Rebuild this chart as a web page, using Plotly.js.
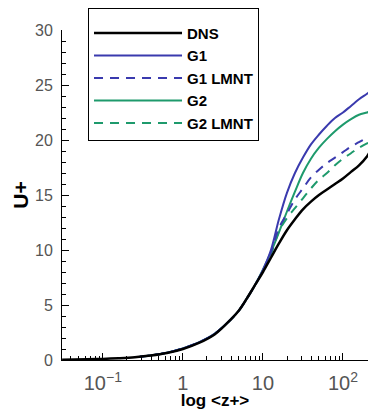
<!DOCTYPE html>
<html>
<head>
<meta charset="utf-8">
<script src="https://cdn.plot.ly/plotly-3.0.1.min.js"></script>
<style>html,body{margin:0;padding:0;background:#fff;}#chart{width:368px;height:410px;}</style>
</head>
<body>
<div id="chart"></div>
<script>
// z+ positions
var zDNS = [0.031, 0.063, 0.1, 0.158, 0.251, 0.398, 0.631, 1, 1.585, 2.512, 3.981, 5.012, 6.31, 7.943, 10, 12.59, 15.85, 19.95, 25.12, 31.62, 39.81, 50.12, 63.1, 79.43, 100, 125.9, 158.5, 199.5, 215];
var uDNS = [0.03, 0.06, 0.1, 0.16, 0.25, 0.4, 0.63, 1.0, 1.55, 2.35, 3.7, 4.5, 5.6, 6.8, 8.0, 9.3, 10.6, 11.8, 12.8, 13.7, 14.4, 15.0, 15.5, 16.0, 16.5, 17.1, 17.7, 18.5, 18.9];

var zLES = [0.29, 0.398, 0.631, 1, 1.585, 2.512, 3.981, 5.012, 6.31, 7.943, 10, 12.59, 15.85, 19.95, 25.12, 31.62, 39.81, 50.12, 63.1, 79.43, 100, 125.9, 158.5, 199.5, 215];
var uG1 =      [0.3, 0.42, 0.66, 1.05, 1.6, 2.4, 3.7, 4.5, 5.6, 6.8, 8.2, 10.0, 12.8, 15.2, 17.0, 18.4, 19.6, 20.5, 21.3, 22.0, 22.5, 23.1, 23.7, 24.2, 24.4];
var uG1LMNT =  [0.3, 0.42, 0.66, 1.05, 1.6, 2.4, 3.7, 4.5, 5.6, 6.8, 8.1, 9.8, 12.0, 13.3, 14.6, 15.6, 16.6, 17.3, 17.9, 18.4, 18.9, 19.4, 19.8, 20.2, 20.3];
var uG2 =      [0.3, 0.42, 0.66, 1.05, 1.6, 2.4, 3.7, 4.5, 5.6, 6.8, 8.2, 9.8, 11.6, 13.5, 15.3, 17.0, 18.3, 19.3, 20.1, 20.8, 21.4, 21.9, 22.3, 22.5, 22.6];
var uG2LMNT =  [0.3, 0.42, 0.66, 1.05, 1.6, 2.4, 3.7, 4.5, 5.6, 6.8, 8.1, 9.6, 11.7, 12.9, 13.8, 14.7, 15.6, 16.4, 17.0, 17.7, 18.3, 18.8, 19.3, 19.7, 19.8];

var names = ["DNS", "G1", "G1 LMNT", "G2", "G2 LMNT"];
var xTitle = "log &lt;z+&gt;";
var yTitle = "U+";

var BLUE = "#3a3aae", GREEN = "#1e9a6c";
var FONT = "Liberation Sans, Arial, sans-serif";

var traces = [
  {x: zLES, y: uG2LMNT, name: names[4], line: {color: GREEN, width: 2, dash: "9px,7px"}},
  {x: zLES, y: uG2, name: names[3], line: {color: GREEN, width: 2}},
  {x: zLES, y: uG1LMNT, name: names[2], line: {color: BLUE, width: 2, dash: "9px,7px"}},
  {x: zLES, y: uG1, name: names[1], line: {color: BLUE, width: 2}},
  {x: zDNS, y: uDNS, name: names[0], line: {color: "#000", width: 2.5}}
].map(function(t){ t.type = "scatter"; t.mode = "lines"; t.line.shape = "spline"; return t; });

var tickFont = {family: FONT, size: 16, color: "#555"};

var layout = {
  width: 368, height: 410,
  margin: {l: 62, r: 0, t: 30, b: 50},
  paper_bgcolor: "#fff", plot_bgcolor: "#fff",
  showlegend: true,
  legend: {
    traceorder: "reversed",
    x: 0.085, y: 1.067, xanchor: "left", yanchor: "top",
    bgcolor: "#fff", bordercolor: "#000", borderwidth: 1,
    font: {family: FONT, size: 15, color: "#000", weight: "bold"},
    itemwidth: 88,
    tracegroupgap: 0,
    title: {text: " ", font: {size: 6}}
  },
  xaxis: {
    type: "log",
    range: [-1.51, 2.3125],
    dtick: 1,
    exponentformat: "power",
    showline: true, linecolor: "#000", linewidth: 1,
    ticks: "inside", ticklen: 7, tickcolor: "#000",
    minor: {ticks: "inside", ticklen: 4, tickcolor: "#000", dtick: "D1", showgrid: false},
    showgrid: false, zeroline: false,
    tickfont: tickFont,
    ticklabelstandoff: 6,
    title: {text: xTitle, font: {family: FONT, size: 17, color: "#000", weight: "bold"}, standoff: 0}
  },
  yaxis: {
    range: [0, 30],
    dtick: 5,
    showline: true, linecolor: "#000", linewidth: 1,
    ticks: "inside", ticklen: 7, tickcolor: "#000",
    minor: {ticks: "inside", ticklen: 4, tickcolor: "#000", dtick: 1, showgrid: false},
    showgrid: false, zeroline: false,
    tickfont: tickFont,
    ticklabelstandoff: 5,
    title: {text: yTitle, font: {family: FONT, size: 21, color: "#000", weight: "bold"}, standoff: 0}
  }
};

Plotly.newPlot("chart", traces, layout, {displayModeBar: false, staticPlot: true});
</script>
</body>
</html>
